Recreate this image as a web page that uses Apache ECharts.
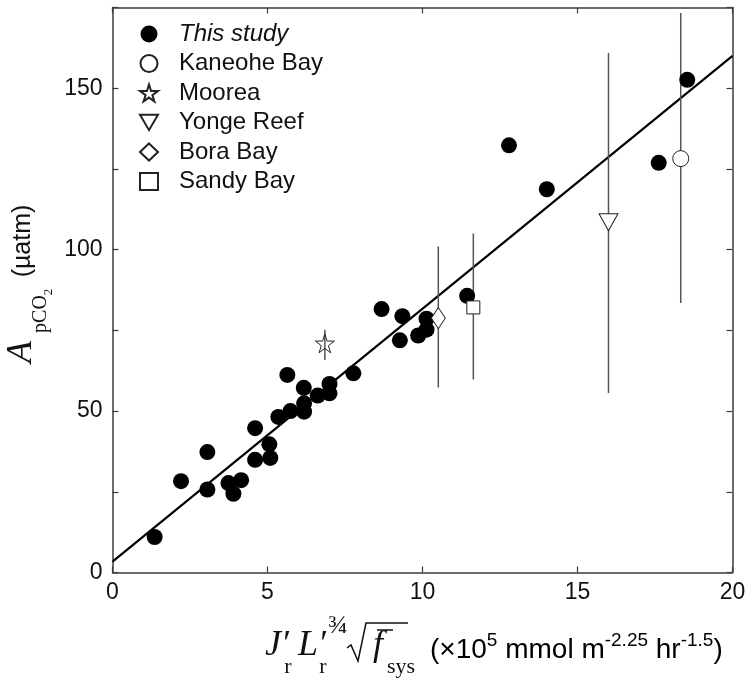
<!DOCTYPE html>
<html>
<head>
<meta charset="utf-8">
<script src="https://cdn.jsdelivr.net/npm/echarts@6/dist/echarts.min.js"></script>
<style>html,body{margin:0;padding:0;background:#fff}#c{width:754px;height:684px}</style>
</head>
<body>
<div id="c"></div>
<script>
// ---- data ----
const studyX = [1.36,2.21,3.06,3.06,3.74,3.90,4.15,4.60,4.60,5.06,5.09,5.35,5.64,5.74,6.17,6.18,6.18,6.62,7.00,7.00,7.77,8.68,9.35,9.27,9.86,10.13,10.13,11.44,12.79,14.01,17.62,18.54];
const studyY = [11.0,28.3,37.3,25.7,27.7,24.4,28.6,44.7,34.9,39.7,35.5,48.2,61.2,50.0,57.2,52.4,49.8,54.8,58.4,55.5,61.7,81.6,79.4,71.9,73.4,78.6,75.2,85.7,132.3,118.7,126.9,152.6];
const siteNames = ['Kaneohe Bay','Moorea','Yonge Reef','Bora Bay','Sandy Bay'];
const siteX    = [18.33, 6.85, 16.0, 10.51, 11.64];
const siteY    = [128.2, 71.0, 108.5, 78.8, 82.1];
const siteLow  = [83.5, 65.8, 55.6, 57.3, 59.8];
const siteHigh = [173.3, 75.2, 160.9, 101.0, 105.0];
const fitX = [0, 20];
const fitY = [3.4, 160.0];
const xTicks = [0, 5, 10, 15, 20];
const yTickLabels = [0, 50, 100, 150];

// ---- styles ----
const sans = 'Liberation Sans, Arial, sans-serif';
const serif = 'Liberation Serif, Times New Roman, serif';
const starPath = 'path://M50,0 L61,35 L98,35 L68,57 L79,91 L50,70 L21,91 L32,57 L2,35 L39,35 Z';
const triPath = 'path://M0,0 L20,0 L10,17 Z';
const siteSymbols = [
  {symbol:'circle', size:16, fill:'#fff'},
  {symbol:starPath, size:19, fill:'rgba(255,255,255,0)'},
  {symbol:triPath, size:[19,17], fill:'#fff'},
  {symbol:'diamond', size:[14,21], fill:'#fff'},
  {symbol:'rect', size:13, fill:'#fff'}
];

const chart = echarts.init(document.getElementById('c'));
const axisCol = '#3c3c3c';
function mkX(pos, show){
  return {type:'value', position:pos, min:xTicks[0], max:xTicks[xTicks.length-1], interval:5,
    axisLine:{show:true, onZero:false, lineStyle:{color:axisCol, width:1.5}},
    axisTick:{show:true, inside:true, length:6, lineStyle:{color:axisCol, width:1.2}},
    axisLabel:{show:show, color:'#111', fontSize:23, fontFamily:sans, margin:9},
    splitLine:{show:false}};
}
function mkY(pos, show){
  return {type:'value', position:pos, min:0, max:175, interval:25,
    axisLine:{show:true, onZero:false, lineStyle:{color:axisCol, width:1.5}},
    axisTick:{show:true, inside:true, length:6, lineStyle:{color:axisCol, width:1.2}},
    axisLabel:{show:show, color:'#111', fontSize:23, fontFamily:sans, margin:10,
      formatter: v => yTickLabels.indexOf(v) >= 0 ? String(v) : ''},
    splitLine:{show:false}};
}

const series = [];
series.push({name:'fit', type:'line', data: fitX.map((x,i)=>[x, fitY[i]]), symbol:'none',
  lineStyle:{color:'#000', width:2.2}, z:2, silent:true});
series.push({name:'errbars', type:'custom', z:3, silent:true,
  data: siteX.map((x,i)=>[x, siteLow[i], siteHigh[i]]),
  renderItem: (params, api) => {
    const p1 = api.coord([api.value(0), api.value(1)]);
    const p2 = api.coord([api.value(0), api.value(2)]);
    return {type:'line', shape:{x1:p1[0], y1:p1[1], x2:p2[0], y2:p2[1]},
      style:{stroke:'#555', lineWidth:1.5}};
  }});
series.push({name:'This study', type:'scatter', data: studyX.map((x,i)=>[x, studyY[i]]),
  symbol:'circle', symbolSize:16, itemStyle:{color:'#000', opacity:1}, z:5});
siteNames.forEach((n,i)=>{
  const s = siteSymbols[i];
  series.push({name:n, type:'scatter', data:[[siteX[i], siteY[i]]], symbol:s.symbol, symbolSize:s.size,
    itemStyle:{color:s.fill, borderColor:'#222', borderWidth:1, opacity:1}, z:6});
});

const xTitleRich = {
  n:{fontFamily:sans, fontSize:28, color:'#111', lineHeight:33, verticalAlign:'bottom'},
  s:{fontFamily:sans, fontSize:19, color:'#111', lineHeight:33, verticalAlign:'top'}
};

chart.setOption({
  animation:false,
  backgroundColor:'#fff',
  grid:{left:112.5, right:21.5, top:7.5, bottom:111.5, containLabel:false},
  xAxis:[mkX('bottom', true), mkX('top', false)],
  yAxis:[mkY('left', true), mkY('right', false)],
  legend:{
    orient:'vertical', left:134, top:17, itemWidth:18, itemHeight:17, itemGap:5.5,
    textStyle:{fontFamily:sans, fontSize:24, color:'#111', padding:[0,0,0,16]},
    data:[{name:'This study', textStyle:{fontStyle:'italic'}}].concat(siteNames.map(n=>({name:n})))
  },
  series: series,
  graphic:[
    // y-axis title (rotated)
    {type:'group', x:0, y:684, rotation:Math.PI/2, children:[
      {type:'text', x:332, y:22, style:{text:'A', fontFamily:serif, fontStyle:'italic', fontSize:36, fill:'#111', align:'center', verticalAlign:'middle'}},
      {type:'text', x:370, y:41, style:{text:'pCO', fontFamily:serif, fontSize:20, fill:'#111', align:'center', verticalAlign:'middle'}},
      {type:'text', x:392, y:49, style:{text:'2', fontFamily:serif, fontSize:13, fill:'#111', align:'center', verticalAlign:'middle'}},
      {type:'text', x:443, y:23, style:{text:'(µatm)', fontFamily:sans, fontSize:25, fill:'#111', align:'center', verticalAlign:'middle'}}
    ]},
    // x-axis title
    {type:'text', x:265, y:646, style:{text:'J′', fontFamily:serif, fontStyle:'italic', fontSize:36, fill:'#111', align:'left', verticalAlign:'middle'}},
    {type:'text', x:288, y:667, style:{text:'r', fontFamily:serif, fontSize:22, fill:'#111', align:'center', verticalAlign:'middle'}},
    {type:'text', x:298, y:646, style:{text:'L′', fontFamily:serif, fontStyle:'italic', fontSize:36, fill:'#111', align:'left', verticalAlign:'middle'}},
    {type:'text', x:323, y:667, style:{text:'r', fontFamily:serif, fontSize:22, fill:'#111', align:'center', verticalAlign:'middle'}},
    {type:'text', x:338, y:626, style:{text:'¾', fontFamily:serif, fontSize:26, fill:'#111', align:'center', verticalAlign:'middle'}},
    {type:'polyline', shape:{points:[[347,648],[351,645],[358,661],[366,623],[408,623]]}, style:{stroke:'#111', lineWidth:1.5, fill:null}},
    {type:'text', x:378, y:646, style:{text:'f', fontFamily:serif, fontStyle:'italic', fontSize:36, fill:'#111', align:'center', verticalAlign:'middle'}},
    {type:'line', shape:{x1:377, y1:630, x2:393, y2:630}, style:{stroke:'#111', lineWidth:1.5}},
    {type:'text', x:401, y:667, style:{text:'sys', fontFamily:serif, fontSize:22, fill:'#111', align:'center', verticalAlign:'middle'}},
    {type:'text', x:430, y:648, style:{
      text:'{n|(×10}{s|5}{n| mmol m}{s|-2.25}{n| hr}{s|-1.5}{n|)}',
      rich:xTitleRich, align:'left', verticalAlign:'middle'}}
  ]
});
</script>
</body>
</html>
